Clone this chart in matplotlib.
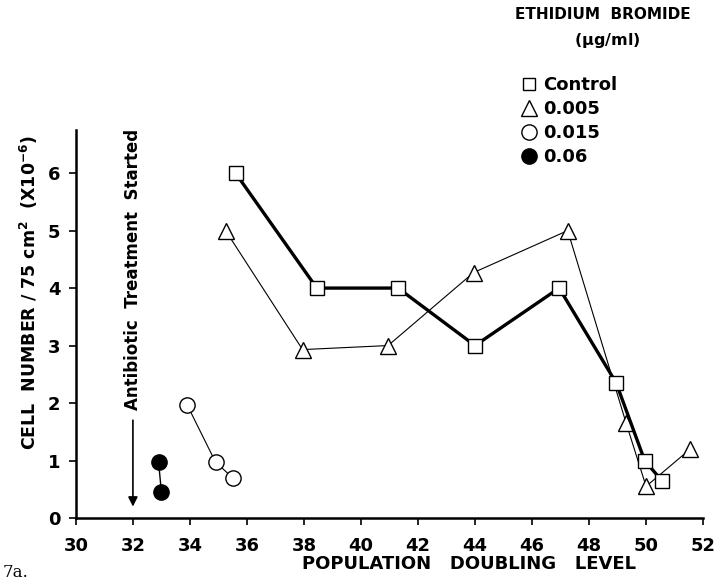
import matplotlib
matplotlib.use('Agg')
import matplotlib.pyplot as plt
from matplotlib.lines import Line2D

# values
control_x = [35.6, 38.45, 41.3, 44.0, 46.95, 48.95, 49.95, 50.55]
control_y = [6.0, 4.0, 4.0, 3.0, 4.0, 2.35, 1.0, 0.65]

eb005_x = [35.25, 37.95, 40.95, 43.95, 47.25, 49.3, 50.0, 51.55]
eb005_y = [5.0, 2.93, 3.0, 4.27, 5.0, 1.65, 0.55, 1.2]

eb015_x = [33.9, 34.9, 35.5]
eb015_y = [1.97, 0.97, 0.7]

eb06_x = [32.9, 33.0]
eb06_y = [0.97, 0.45]

x_ticks = [30, 32, 34, 36, 38, 40, 42, 44, 46, 48, 50, 52]
y_ticks = [0, 1, 2, 3, 4, 5, 6]
legend_labels = ['Control', '0.005', '0.015', '0.06']

plt.rcParams['font.family'] = ['DejaVu Sans']
plt.rcParams['font.weight'] = 'bold'

fig = plt.figure(figsize=(7.16, 5.83), dpi=100)
ax = fig.add_axes([0.106, 0.1115, 0.876, 0.6655])

ax.plot(control_x, control_y, color='black', lw=2.4, marker='s', ms=9.5,
        mfc='white', mec='black', mew=1.0, zorder=3)
ax.plot(eb005_x, eb005_y, color='black', lw=0.8, marker='^', ms=12,
        mfc='white', mec='black', mew=1.0, zorder=2)
ax.plot(eb015_x, eb015_y, color='black', lw=0.8, marker='o', ms=11,
        mfc='white', mec='black', mew=1.0, zorder=2)
ax.plot(eb06_x, eb06_y, color='black', lw=1.0, marker='o', ms=11,
        mfc='black', mec='black', zorder=2)

# arrow for start of treatment
ax.annotate('', xy=(32, 0.15), xytext=(32, 1.75),
            arrowprops=dict(arrowstyle='-|>', color='black', lw=1.2,
                            mutation_scale=14))
ax.text(32, 1.88, 'Antibiotic  Treatment  Started', rotation=90,
        ha='center', va='bottom', fontsize=12, fontweight='bold')

ax.set_xlim(30, 52)
ax.set_ylim(0, 6.75)
ax.set_xticks(x_ticks)
ax.set_yticks(y_ticks)
ax.tick_params(direction='out', length=5, width=1.2, labelsize=13)
ax.tick_params(axis='x', pad=9)
ax.tick_params(axis='y', pad=6)
for lab in ax.get_xticklabels() + ax.get_yticklabels():
    lab.set_fontweight('bold')
ax.spines['top'].set_visible(False)
ax.spines['right'].set_visible(False)
ax.spines['left'].set_linewidth(1.8)
ax.spines['bottom'].set_linewidth(1.8)

ax.set_ylabel('CELL  NUMBER / 75 cm$^{\\mathbf{2}}$  (X10$^{\\mathbf{-6}}$)',
              fontsize=12.5, fontweight='bold')
ax.yaxis.set_label_coords(-0.058, 0.58)
fig.text(0.655, 0.032, 'POPULATION   DOUBLING   LEVEL', ha='center',
         va='center', fontsize=13)

# legend
fig.text(0.842, 0.975, 'ETHIDIUM  BROMIDE', ha='center', va='center', fontsize=11)
fig.text(0.848, 0.93, '($\\mathbf{\\mu}$g/ml)', ha='center', va='center', fontsize=11.5)
handles = [
    Line2D([], [], ls='none', marker='s', ms=9, mfc='white', mec='black'),
    Line2D([], [], ls='none', marker='^', ms=11, mfc='white', mec='black'),
    Line2D([], [], ls='none', marker='o', ms=11, mfc='white', mec='black'),
    Line2D([], [], ls='none', marker='o', ms=11, mfc='black', mec='black'),
]
leg = fig.legend(handles, legend_labels, loc='upper left',
                 bbox_to_anchor=(0.715, 0.885), frameon=False,
                 fontsize=13, handlelength=0.9, handletextpad=0.3,
                 labelspacing=0.33, borderpad=0)

fig.text(0.003, 0.018, '7a.', ha='left', va='center', fontsize=12,
         family='DejaVu Serif', fontweight='normal')

fig.savefig('out.png', dpi=100)
